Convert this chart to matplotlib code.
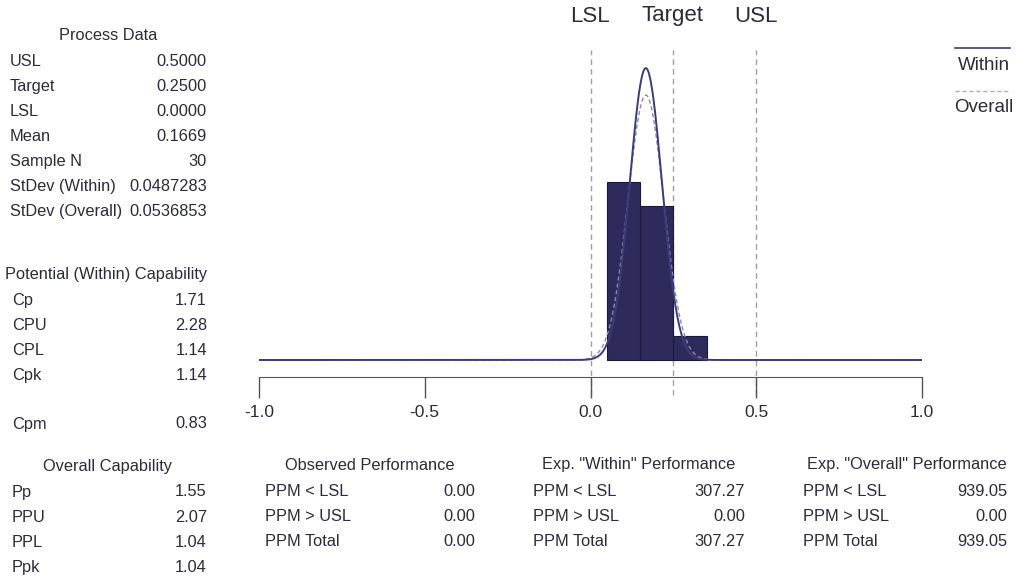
import matplotlib
matplotlib.use("Agg")
import matplotlib.pyplot as plt
import numpy as np

plt.rcParams['font.family'] = ['Liberation Sans', 'DejaVu Sans']

# process data
lsl, target, usl = 0.0, 0.25, 0.5
mean = 0.1669
n = 30
sd_within = 0.0487283
sd_overall = 0.0536853

# histogram
bin_edges = [0.05, 0.15, 0.25, 0.35]
bin_counts = [15, 13, 2]

process_rows = [("USL", "0.5000"), ("Target", "0.2500"), ("LSL", "0.0000"),
                ("Mean", "0.1669"), ("Sample N", "30"),
                ("StDev (Within)", "0.0487283"), ("StDev (Overall)", "0.0536853")]
potential_rows = [("Cp", "1.71"), ("CPU", "2.28"), ("CPL", "1.14"), ("Cpk", "1.14")]
cpm_row = ("Cpm", "0.83")
overall_rows = [("Pp", "1.55"), ("PPU", "2.07"), ("PPL", "1.04"), ("Ppk", "1.04")]
observed_rows = [("PPM < LSL", "0.00"), ("PPM > USL", "0.00"), ("PPM Total", "0.00")]
exp_within_rows = [("PPM < LSL", "307.27"), ("PPM > USL", "0.00"), ("PPM Total", "307.27")]
exp_overall_rows = [("PPM < LSL", "939.05"), ("PPM > USL", "0.00"), ("PPM Total", "939.05")]
x_ticks = [-1.0, -0.5, 0.0, 0.5, 1.0]

W, H = 1020, 584
fig = plt.figure(figsize=(W / 100, H / 100), dpi=100)
txt_col = "#2b2b3b"
body = 11.8


def fx(px):
    return px / W


def fy(py):
    return 1 - py / H


def put(px, py, s, ha="left", size=body):
    fig.text(fx(px), fy(py), s, ha=ha, va="center", fontsize=size, color=txt_col)


# main axes: pixels 259..922 horizontally, 45..377 vertically
px_per_unit = 35.65
ax = fig.add_axes([fx(259), fy(377), fx(922) - fx(259), (377 - 45) / H])
ax.set_xlim(-1.0, 1.0)
ax.set_ylim(-17 / px_per_unit, (360 - 45) / px_per_unit)

widths = np.diff(bin_edges)
heights = np.array(bin_counts) / (n * widths)
ax.bar(bin_edges[:-1], heights, width=widths, align="edge",
       color="#2e2a5c", edgecolor="#1c1838", linewidth=0.8, zorder=2)

x = np.linspace(-1.0, 1.0, 2001)
pdf_w = np.exp(-0.5 * ((x - mean) / sd_within) ** 2) / (sd_within * np.sqrt(2 * np.pi))
pdf_o = np.exp(-0.5 * ((x - mean) / sd_overall) ** 2) / (sd_overall * np.sqrt(2 * np.pi))
ax.plot(x, pdf_w, color="#3c3c78", lw=1.4, zorder=4)
ax.plot(x, pdf_o, color="#8888b0", lw=1.0, ls=(0, (3, 2)), zorder=3)

y_lo = (360 - 395) / px_per_unit
y_hi = (360 - 50) / px_per_unit
for v in (lsl, target, usl):
    ax.plot([v, v], [y_lo, y_hi], color="#a0a0a0", lw=1.0, ls=(0, (4, 3)),
            clip_on=False, zorder=1)

for s in ("top", "left", "right"):
    ax.spines[s].set_visible(False)
ax.spines["bottom"].set_color("#555555")
ax.set_yticks([])
ax.set_xticks(x_ticks)
ax.set_xticklabels([f"{t:.1f}" for t in x_ticks])
ax.tick_params(axis="x", direction="out", length=15, width=1, colors="#555555",
               labelcolor=txt_col, labelsize=12.5, pad=5)

# spec labels on top
for v, lab in ((lsl, "LSL"), (target, "Target"), (usl, "USL")):
    put(590 + v * 331.5, 16, lab, ha="center", size=16)

# legend
fig.add_artist(plt.Line2D([fx(955), fx(1010)], [fy(48), fy(48)], color="#3c3c78", lw=1.2))
put(1010, 65, "Within", ha="right", size=13.5)
fig.add_artist(plt.Line2D([fx(955), fx(1010)], [fy(91), fy(91)], color="#aaaacc", lw=1.0,
                          ls=(0, (3, 2))))
put(1013, 107, "Overall", ha="right", size=13.5)

# left panels
put(108, 36, "Process Data", ha="center")
for i, (k, v) in enumerate(process_rows):
    put(10, 61 + i * 25.1, k)
    put(207, 61 + i * 25.1, v, ha="right")

put(5, 275, "Potential (Within) Capability")
for i, (k, v) in enumerate(potential_rows):
    put(12, 300 + i * 25.2, k)
    put(207, 300 + i * 25.2, v, ha="right")
put(12, 424, cpm_row[0])
put(207, 424, cpm_row[1], ha="right")

put(108, 466, "Overall Capability", ha="center")
for i, (k, v) in enumerate(overall_rows):
    put(12, 492 + i * 25.3, k)
    put(207, 492 + i * 25.3, v, ha="right")

# bottom panels
panels = [("Observed Performance", 370, 265, 475, observed_rows),
          ('Exp. "Within" Performance', 639, 533, 745, exp_within_rows),
          ('Exp. "Overall" Performance', 907, 803, 1007, exp_overall_rows)]
for title, cx, lx, rx, rows in panels:
    put(cx, 465, title, ha="center")
    for i, (k, v) in enumerate(rows):
        put(lx, 491 + i * 25.3, k)
        put(rx, 491 + i * 25.3, v, ha="right")

fig.savefig("out.png", dpi=100)
